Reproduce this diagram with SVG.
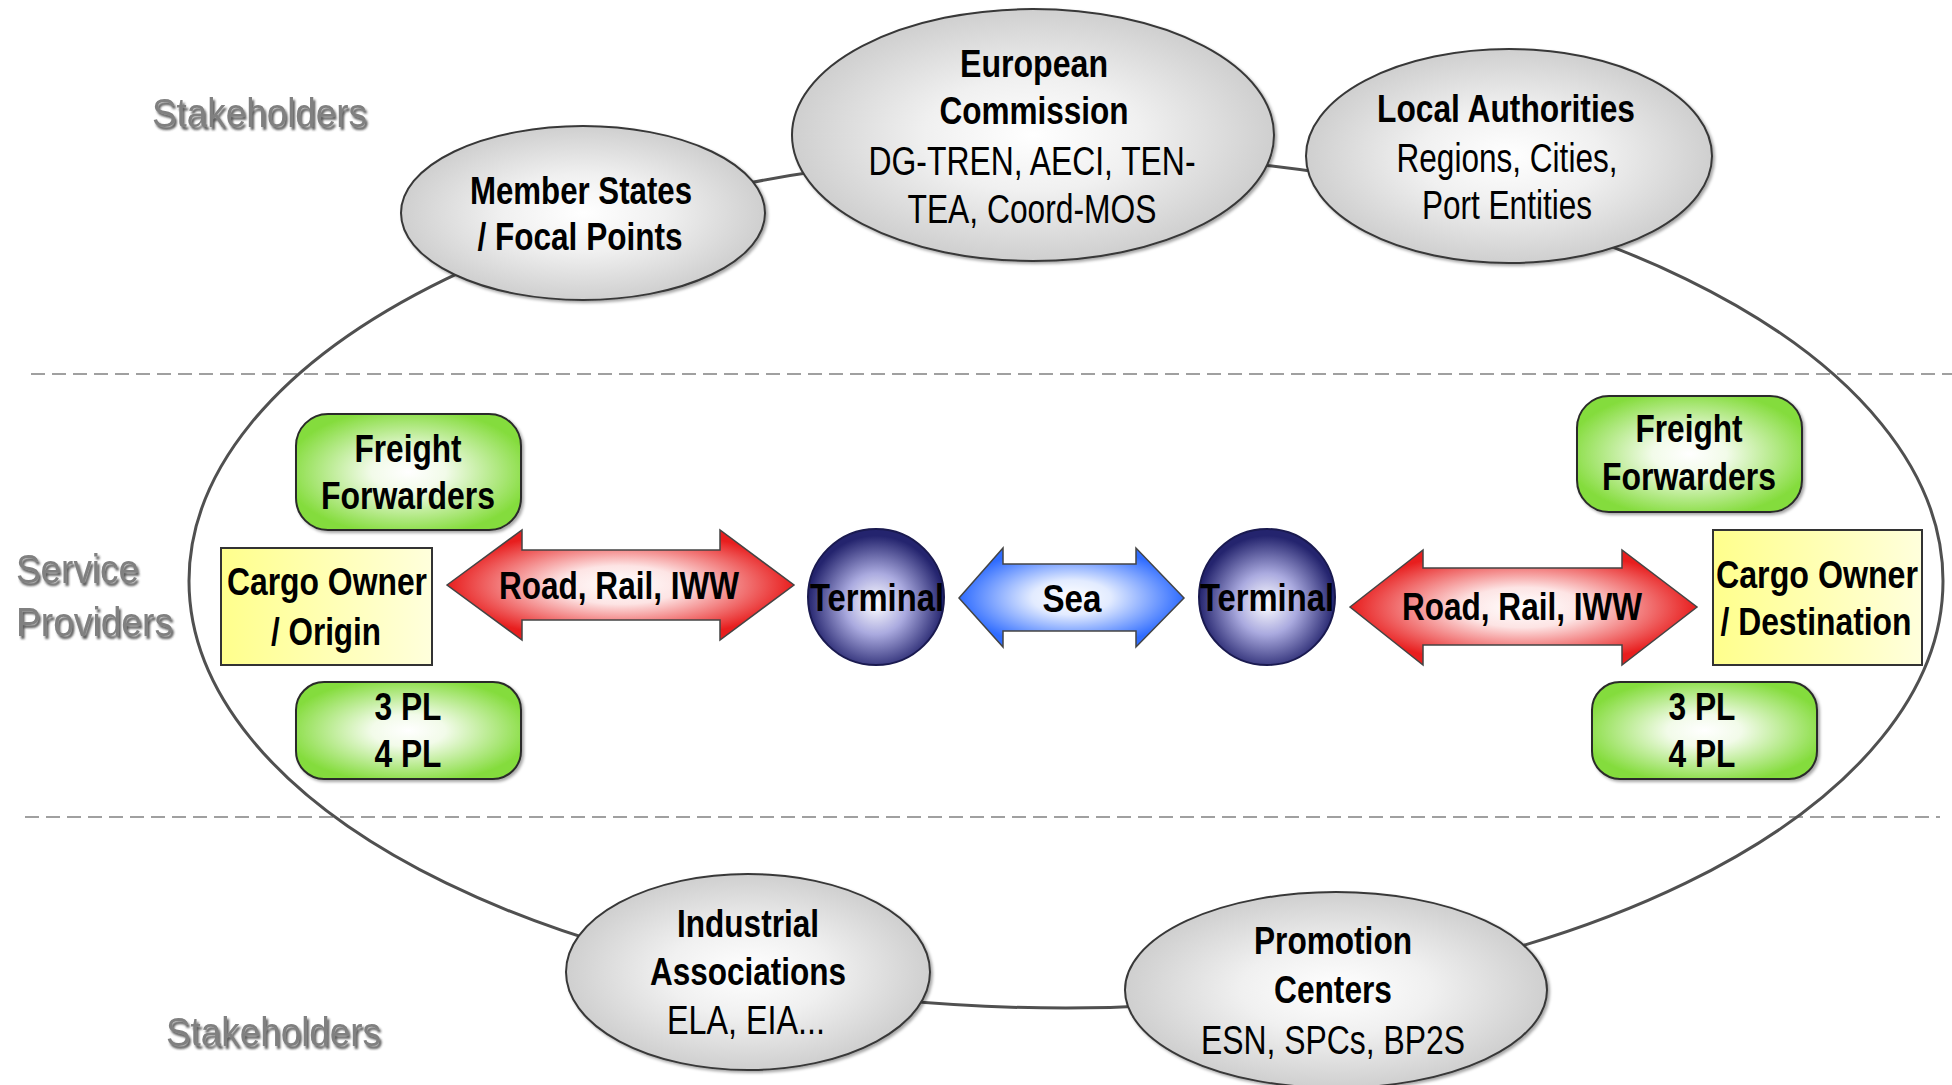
<svg xmlns="http://www.w3.org/2000/svg" width="1952" height="1085" viewBox="0 0 1952 1085">
<defs>
<radialGradient id="gEll" cx="0.5" cy="0.5" r="0.5"><stop offset="0" stop-color="#ffffff"/><stop offset="0.45" stop-color="#f0f0f0"/><stop offset="1" stop-color="#cfcfcf"/></radialGradient>
<radialGradient id="gGreen" cx="0.5" cy="0.5" r="0.55"><stop offset="0" stop-color="#ffffff"/><stop offset="0.3" stop-color="#f2fbe9"/><stop offset="1" stop-color="#84dc3c"/></radialGradient>
<linearGradient id="gYellow" x1="0" y1="0" x2="1" y2="0"><stop offset="0" stop-color="#ffff8c"/><stop offset="1" stop-color="#ffffdc"/></linearGradient>
<radialGradient id="gRed" cx="0.5" cy="0.5" r="0.5"><stop offset="0" stop-color="#ffffff"/><stop offset="0.35" stop-color="#fde4e4"/><stop offset="1" stop-color="#e81e1e"/></radialGradient>
<radialGradient id="gBlue" cx="0.5" cy="0.5" r="0.5"><stop offset="0" stop-color="#ffffff"/><stop offset="0.35" stop-color="#e2ebff"/><stop offset="1" stop-color="#2f6cff"/></radialGradient>
<radialGradient id="gTerm" cx="0.5" cy="0.55" r="0.5"><stop offset="0" stop-color="#ffffff"/><stop offset="0.45" stop-color="#aaaadf"/><stop offset="1" stop-color="#24246e"/></radialGradient>
<filter id="sh" x="-10%" y="-10%" width="125%" height="125%"><feDropShadow dx="2" dy="2" stdDeviation="1.5" flood-color="#000" flood-opacity="0.35"/></filter>
<filter id="tsh" x="-5%" y="-20%" width="115%" height="150%"><feDropShadow dx="2" dy="3" stdDeviation="0.8" flood-color="#333" flood-opacity="0.8"/></filter>
</defs>
<style>
.ell{fill:url(#gEll);stroke:#383838;stroke-width:2;filter:url(#sh)}
.grn{fill:url(#gGreen);stroke:#2a2a2a;stroke-width:2;filter:url(#sh)}
.ylw{fill:url(#gYellow);stroke:#333;stroke-width:2}
.term{fill:url(#gTerm);stroke:#1a1a50;stroke-width:2}
.red{fill:url(#gRed);stroke:#444;stroke-width:1.5}
.blue{fill:url(#gBlue);stroke:#444;stroke-width:1.5}
.dash{stroke:#a0a0a0;stroke-width:2;stroke-dasharray:14 7;fill:none}
.ring{fill:none;stroke:#505050;stroke-width:3}
text{font-family:"Liberation Sans",Arial,sans-serif;fill:#000}
.b{font-weight:bold;font-size:38px;text-anchor:middle}
.n{font-size:41px;text-anchor:middle}
.lbl{font-size:41px;fill:#808080;filter:url(#tsh)}
</style>
<rect width="1952" height="1085" fill="#ffffff"/>
<line class="dash" x1="31" y1="374" x2="1952" y2="374"/>
<line class="dash" x1="25" y1="817" x2="1940" y2="817"/>
<text class="lbl" x="152" y="127" textLength="215" lengthAdjust="spacingAndGlyphs">Stakeholders</text>
<text class="lbl" x="16" y="583" textLength="123" lengthAdjust="spacingAndGlyphs">Service</text>
<text class="lbl" x="16" y="636" textLength="157" lengthAdjust="spacingAndGlyphs">Providers</text>
<text class="lbl" x="166" y="1046" textLength="215" lengthAdjust="spacingAndGlyphs">Stakeholders</text>
<g id="connectors">
<ellipse class="ring" cx="1066" cy="581" rx="877" ry="427"/>
</g>
<g id="member-states">
<ellipse class="ell" cx="583" cy="213" rx="182" ry="87"/>
<text class="b" x="581" y="204" textLength="222" lengthAdjust="spacingAndGlyphs">Member States</text>
<text class="b" x="580" y="250" textLength="205" lengthAdjust="spacingAndGlyphs">/ Focal Points</text>
</g>
<g id="european-commission">
<ellipse class="ell" cx="1033" cy="135" rx="241" ry="126"/>
<text class="b" x="1034" y="77" textLength="148" lengthAdjust="spacingAndGlyphs">European</text>
<text class="b" x="1034" y="124" textLength="189" lengthAdjust="spacingAndGlyphs">Commission</text>
<text class="n" x="1032" y="175" textLength="327" lengthAdjust="spacingAndGlyphs">DG-TREN, AECI, TEN-</text>
<text class="n" x="1032" y="223" textLength="249" lengthAdjust="spacingAndGlyphs">TEA, Coord-MOS</text>
</g>
<g id="local-authorities">
<ellipse class="ell" cx="1509" cy="156" rx="203" ry="107"/>
<text class="b" x="1506" y="122" textLength="258" lengthAdjust="spacingAndGlyphs">Local Authorities</text>
<text class="n" x="1507" y="172" textLength="221" lengthAdjust="spacingAndGlyphs">Regions, Cities,</text>
<text class="n" x="1507" y="219" textLength="170" lengthAdjust="spacingAndGlyphs">Port Entities</text>
</g>
<g id="industrial-associations">
<ellipse class="ell" cx="748" cy="972" rx="182" ry="98"/>
<text class="b" x="748" y="937" textLength="142" lengthAdjust="spacingAndGlyphs">Industrial</text>
<text class="b" x="748" y="985" textLength="196" lengthAdjust="spacingAndGlyphs">Associations</text>
<text class="n" x="746" y="1034" textLength="158" lengthAdjust="spacingAndGlyphs">ELA, EIA...</text>
</g>
<g id="promotion-centers">
<ellipse class="ell" cx="1336" cy="990" rx="211" ry="98"/>
<text class="b" x="1333" y="954" textLength="158" lengthAdjust="spacingAndGlyphs">Promotion</text>
<text class="b" x="1333" y="1003" textLength="118" lengthAdjust="spacingAndGlyphs">Centers</text>
<text class="n" x="1333" y="1054" textLength="264" lengthAdjust="spacingAndGlyphs">ESN, SPCs, BP2S</text>
</g>
<g id="freight-forwarders-left">
<rect class="grn" x="296" y="414" width="225" height="116" rx="32"/>
<text class="b" x="408" y="462" textLength="107" lengthAdjust="spacingAndGlyphs">Freight</text>
<text class="b" x="408" y="509" textLength="174" lengthAdjust="spacingAndGlyphs">Forwarders</text>
</g>
<g id="cargo-owner-origin">
<rect class="ylw" x="221" y="548" width="211" height="117"/>
<text class="b" x="327" y="595" textLength="200" lengthAdjust="spacingAndGlyphs">Cargo Owner</text>
<text class="b" x="326" y="645" textLength="110" lengthAdjust="spacingAndGlyphs">/ Origin</text>
</g>
<g id="pl-left">
<rect class="grn" x="296" y="682" width="225" height="97" rx="28"/>
<text class="b" x="408" y="720" textLength="67" lengthAdjust="spacingAndGlyphs">3 PL</text>
<text class="b" x="408" y="767" textLength="67" lengthAdjust="spacingAndGlyphs">4 PL</text>
</g>
<g id="road-rail-iww-left">
<path class="red" d="M447,585 L522,530 L522,550 L720,550 L720,530 L794,585 L720,640 L720,620 L522,620 L522,640 Z"/>
<text class="b" x="619" y="599" textLength="240" lengthAdjust="spacingAndGlyphs">Road, Rail, IWW</text>
</g>
<g id="terminal-left">
<circle class="term" cx="876" cy="597" r="68"/>
<text class="b" x="877" y="611" textLength="134" lengthAdjust="spacingAndGlyphs">Terminal</text>
</g>
<g id="sea">
<path class="blue" d="M959,598 L1003,548 L1003,564 L1136,564 L1136,548 L1184,598 L1136,647 L1136,631 L1003,631 L1003,647 Z"/>
<text class="b" x="1072" y="612" textLength="59" lengthAdjust="spacingAndGlyphs">Sea</text>
</g>
<g id="terminal-right">
<circle class="term" cx="1267" cy="597" r="68"/>
<text class="b" x="1267" y="611" textLength="134" lengthAdjust="spacingAndGlyphs">Terminal</text>
</g>
<g id="road-rail-iww-right">
<path class="red" d="M1350,607 L1423,550 L1423,568 L1622,568 L1622,550 L1697,607 L1622,665 L1622,645 L1423,645 L1423,665 Z"/>
<text class="b" x="1522" y="620" textLength="240" lengthAdjust="spacingAndGlyphs">Road, Rail, IWW</text>
</g>
<g id="freight-forwarders-right">
<rect class="grn" x="1577" y="396" width="225" height="116" rx="32"/>
<text class="b" x="1689" y="442" textLength="107" lengthAdjust="spacingAndGlyphs">Freight</text>
<text class="b" x="1689" y="490" textLength="174" lengthAdjust="spacingAndGlyphs">Forwarders</text>
</g>
<g id="cargo-owner-destination">
<rect class="ylw" x="1713" y="530" width="209" height="135"/>
<text class="b" x="1817" y="588" textLength="202" lengthAdjust="spacingAndGlyphs">Cargo Owner</text>
<text class="b" x="1816" y="635" textLength="191" lengthAdjust="spacingAndGlyphs">/ Destination</text>
</g>
<g id="pl-right">
<rect class="grn" x="1592" y="682" width="225" height="97" rx="28"/>
<text class="b" x="1702" y="720" textLength="67" lengthAdjust="spacingAndGlyphs">3 PL</text>
<text class="b" x="1702" y="767" textLength="67" lengthAdjust="spacingAndGlyphs">4 PL</text>
</g>
</svg>
